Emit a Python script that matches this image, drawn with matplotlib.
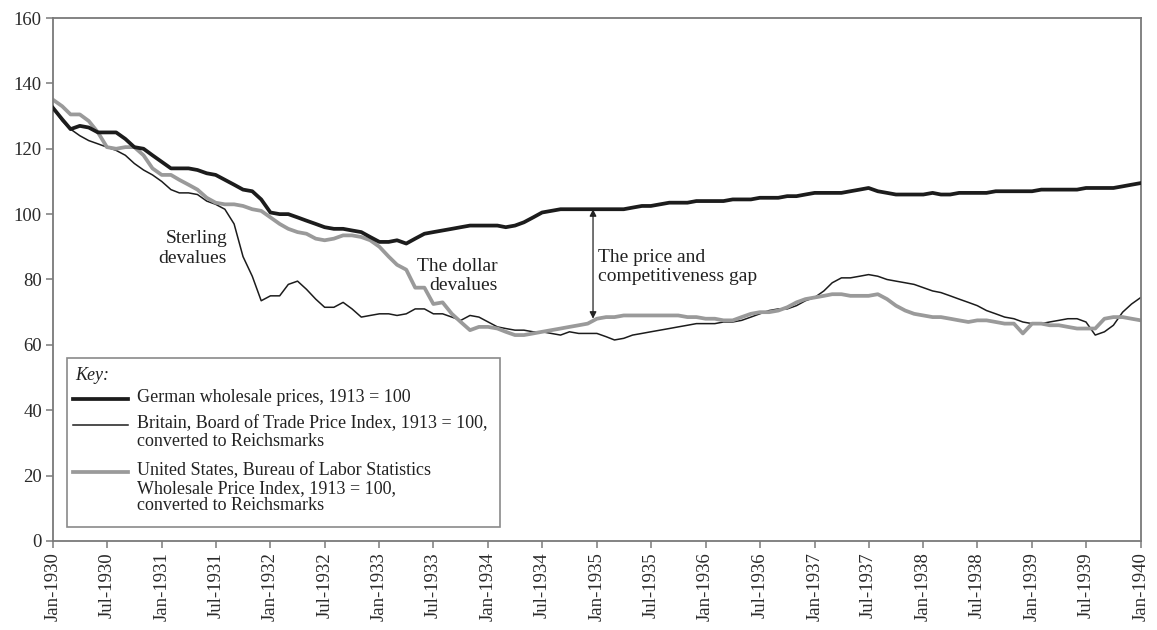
import numpy as np
import pandas as pd
import matplotlib
matplotlib.use("Agg")
from matplotlib import pyplot as plt
from matplotlib.lines import Line2D
from matplotlib.patches import Rectangle

# monthly, Jan-1930 .. Jan-1940
months = pd.date_range("1930-01-01", "1940-01-01", freq="MS")

german = [132.5, 129, 126, 127, 126.5, 125, 125, 125, 123, 120.5,
          120, 118, 116, 114, 114, 114, 113.5, 112.5, 112, 110.5,
          109, 107.5, 107, 104.5, 100.5, 100, 100, 99, 98, 97,
          96, 95.5, 95.5, 95, 94.5, 93, 91.5, 91.5, 92, 91,
          92.5, 94, 94.5, 95, 95.5, 96, 96.5, 96.5, 96.5, 96.5,
          96, 96.5, 97.5, 99, 100.5, 101, 101.5, 101.5, 101.5, 101.5,
          101.5, 101.5, 101.5, 101.5, 102, 102.5, 102.5, 103, 103.5, 103.5,
          103.5, 104, 104, 104, 104, 104.5, 104.5, 104.5, 105, 105,
          105, 105.5, 105.5, 106, 106.5, 106.5, 106.5, 106.5, 107, 107.5,
          108, 107, 106.5, 106, 106, 106, 106, 106.5, 106, 106,
          106.5, 106.5, 106.5, 106.5, 107, 107, 107, 107, 107, 107.5,
          107.5, 107.5, 107.5, 107.5, 108, 108, 108, 108, 108.5, 109,
          109.5]

britain = [132.5, 128.5, 126, 124, 122.5, 121.5, 120.5, 119.5, 118, 115.5,
           113.5, 112, 110, 107.5, 106.5, 106.5, 106, 104, 103, 101.5,
           97, 87, 81, 73.5, 75, 75, 78.5, 79.5, 77, 74,
           71.5, 71.5, 73, 71, 68.5, 69, 69.5, 69.5, 69, 69.5,
           71, 71, 69.5, 69.5, 68.5, 67.5, 69, 68.5, 67, 65.5,
           65, 64.5, 64.5, 64, 64, 63.5, 63, 64, 63.5, 63.5,
           63.5, 62.5, 61.5, 62, 63, 63.5, 64, 64.5, 65, 65.5,
           66, 66.5, 66.5, 66.5, 67, 67, 67.5, 68.5, 69.5, 70.5,
           71, 71, 72, 73.5, 74.5, 76.5, 79, 80.5, 80.5, 81,
           81.5, 81, 80, 79.5, 79, 78.5, 77.5, 76.5, 76, 75,
           74, 73, 72, 70.5, 69.5, 68.5, 68, 67, 66.5, 66.5,
           67, 67.5, 68, 68, 67, 63, 64, 66, 70, 72.5,
           74.5]

us = [135, 133, 130.5, 130.5, 128.5, 125, 120.5, 120, 120.5, 120.5,
      118, 114, 112, 112, 110.5, 109, 107.5, 105, 103.5, 103,
      103, 102.5, 101.5, 101, 99, 97, 95.5, 94.5, 94, 92.5,
      92, 92.5, 93.5, 93.5, 93, 92, 90, 87, 84.5, 83,
      77.5, 77.5, 72.5, 73, 69.5, 67, 64.5, 65.5, 65.5, 65,
      64, 63, 63, 63.5, 64, 64.5, 65, 65.5, 66, 66.5,
      68, 68.5, 68.5, 69, 69, 69, 69, 69, 69, 69,
      68.5, 68.5, 68, 68, 67.5, 67.5, 68.5, 69.5, 70, 70,
      70.5, 71.5, 73, 74, 74.5, 75, 75.5, 75.5, 75, 75,
      75, 75.5, 74, 72, 70.5, 69.5, 69, 68.5, 68.5, 68,
      67.5, 67, 67.5, 67.5, 67, 66.5, 66.5, 63.5, 66.5, 66.5,
      66, 66, 65.5, 65, 65, 65, 68, 68.5, 68.5, 68,
      67.5]

labels = ["German wholesale prices, 1913 = 100",
          "Britain, Board of Trade Price Index, 1913 = 100,\nconverted to Reichsmarks",
          "United States, Bureau of Labor Statistics\nWholesale Price Index, 1913 = 100,\nconverted to Reichsmarks"]

plt.rcParams['font.family'] = ['Liberation Serif', 'DejaVu Serif']
plt.rcParams['font.size'] = 13

fig = plt.figure(figsize=(11.57, 6.3), dpi=100)
ax1 = fig.add_axes([0.0458, 0.1413, 0.9402, 0.8301])

ax1.plot(months, german, color='#1c1c1c', lw=2.7, zorder=3)
ax1.plot(months, britain, color='#1c1c1c', lw=1.1, zorder=2)
ax1.plot(months, us, color='#9a9a9a', lw=2.7, zorder=2.5)

ax1.set_xlim(months[0], months[-1])
ax1.set_ylim(0, 160)
ax1.set_yticks(np.arange(0, 161, 20))
ax1.set_xticks(months[::6])
ax1.set_xticklabels([d.strftime('%b-%Y') for d in months[::6]], rotation=90)

for s in ax1.spines.values():
    s.set_color('#7a7a7a')
    s.set_linewidth(1.3)
ax1.tick_params(axis='both', direction='out', length=5, width=1.1,
                color='#7a7a7a', labelcolor='#2a2a2a', labelsize=13.5, pad=3)

# annotations
ax1.text(0.16, 0.559, "Sterling\ndevalues", transform=ax1.transAxes,
         ha='right', va='center', multialignment='right', fontsize=14, color='#222222')
ax1.text(0.409, 0.507, "The dollar\ndevalues", transform=ax1.transAxes,
         ha='right', va='center', multialignment='right', fontsize=14, color='#222222')
ax1.text(0.501, 0.524, "The price and\ncompetitiveness gap", transform=ax1.transAxes,
         ha='left', va='center', fontsize=14, color='#222222')
gap_x = pd.Timestamp("1934-12-19")
ax1.annotate("", xy=(gap_x, german[60]), xytext=(gap_x, us[60]),
             arrowprops=dict(arrowstyle='<|-|>', color='#222222', lw=0.9,
                             mutation_scale=10, shrinkA=0, shrinkB=0))

# key box
ax1.add_patch(Rectangle((0.0129, 0.0268), 0.398, 0.323, transform=ax1.transAxes,
                        fill=False, edgecolor='#8a8a8a', lw=1.2, zorder=4))
ax1.text(0.02, 0.317, "Key:", transform=ax1.transAxes, style='italic',
         ha='left', va='center', fontsize=13, color='#222222')
key_y = [0.2715, 0.2218, 0.1319]
key_style = [('#1c1c1c', 2.7), ('#1c1c1c', 1.1), ('#9a9a9a', 2.7)]
for yk, lab, (c, w) in zip(key_y, labels, key_style):
    ax1.add_line(Line2D([0.0184, 0.0689], [yk, yk], transform=ax1.transAxes,
                        color=c, lw=w))
    ax1.text(0.0772, yk + 0.019, lab, transform=ax1.transAxes, ha='left', va='top',
             fontsize=13, linespacing=1.05, color='#222222')

fig.savefig("out.png", dpi=100)
plt.close()
